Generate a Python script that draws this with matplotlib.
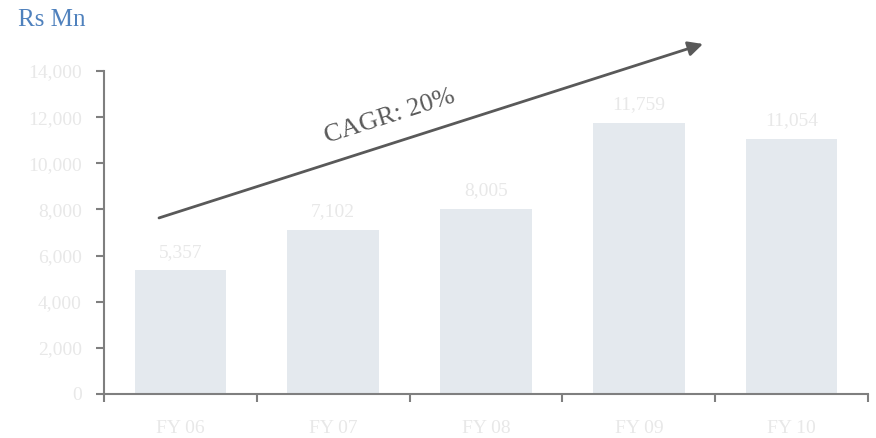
import matplotlib.pyplot as plt
import numpy as np

years = ["FY 06", "FY 07", "FY 08", "FY 09", "FY 10"]
revenue = [5357, 7102, 8005, 11759, 11054]
yticks = [0, 2000, 4000, 6000, 8000, 10000, 12000, 14000]

plt.rcParams['font.family'] = ['Liberation Serif', 'DejaVu Serif']

fig = plt.figure(figsize=(8.76, 4.38), dpi=100)
ax = fig.add_axes([0.1187, 0.1005, 0.8722, 0.7375])

x = np.arange(len(years))
bars = ax.bar(x, revenue, width=0.6, color='#e4e9ee', zorder=2)

# value labels above bars
for xi, v in zip(x, revenue):
    ax.annotate(f"{v:,}", (xi, v), xytext=(0, 7), textcoords='offset points',
                ha='center', va='bottom', fontsize=14, color='#e8e8e8')

ax.set_xlim(-0.5, len(years) - 0.5)
ax.set_ylim(0, 14000)
ax.set_yticks(yticks)
ax.set_yticklabels([f"{t:,}" for t in yticks])

# major ticks at category boundaries, labels on minor ticks at centres
ax.set_xticks(np.arange(-0.5, len(years), 1.0))
ax.set_xticklabels([])
ax.set_xticks(x, minor=True)
ax.set_xticklabels(years, minor=True)
ax.tick_params(axis='x', which='major', direction='out', length=6, width=1.5, color='#7f7f7f')
ax.tick_params(axis='x', which='minor', length=0, pad=19, labelsize=14, labelcolor='#e8e8e8')
ax.tick_params(axis='y', direction='out', length=6, width=1.5, color='#7f7f7f',
               labelsize=14, labelcolor='#e8e8e8', pad=10)

for s in ['top', 'right']:
    ax.spines[s].set_visible(False)
for s in ['left', 'bottom']:
    ax.spines[s].set_color('#7f7f7f')
    ax.spines[s].set_linewidth(1.5)

# CAGR arrow
ax.annotate("", xy=(3.42, 15170), xytext=(-0.14, 7630),
            arrowprops=dict(arrowstyle='-|>', color='#595959', lw=2,
                            mutation_scale=22, shrinkA=0, shrinkB=0),
            annotation_clip=False)
ax.text(1.37, 12000, "CAGR: 20%", rotation=17.7, rotation_mode='anchor',
        ha='center', va='center', fontsize=19, color='#595959')

fig.text(0.021, 0.954, "Rs Mn", ha='left', va='center', fontsize=18, color='#4f81bd')

fig.savefig("out.png", dpi=100)
